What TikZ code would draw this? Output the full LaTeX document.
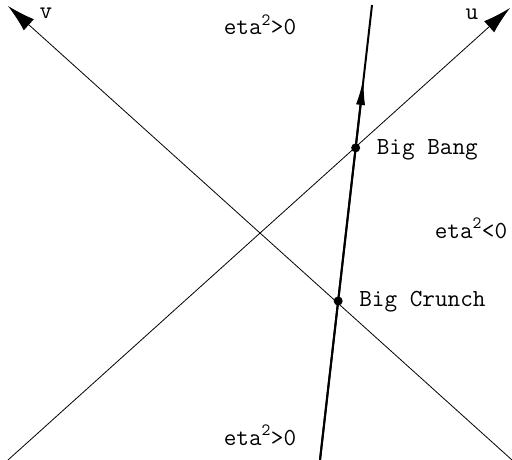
\documentclass[tikz,border=0pt]{standalone}
\usepackage{fontspec}
\usetikzlibrary{arrows.meta,positioning,calc}

\begin{document}
\begin{tikzpicture}[x=1pt, y=-1pt,
		lab/.style={font=\ttfamily\fontsize{24.5}{26}\selectfont, inner sep=0pt},
		cone/.style={line width=0.8pt, -{Latex[length=28pt,width=15pt]}},
		world/.style={line width=2pt},
		event/.style={circle, fill, inner sep=0pt, minimum size=9pt}]
	\useasboundingbox (0,0) rectangle (512,460);
	% light cone
	\coordinate (u0) at (8,460);
	\coordinate (u1) at (510,8);
	\coordinate (v0) at (512,460);
	\coordinate (v1) at (8,6);
	\draw[cone] (u0) -- (u1);
	\draw[cone] (v0) -- (v1);
	\node[lab] (ulab) at (472,14) {u};
	\node[lab] (vlab) at (46,13) {v};
	% world line
	\coordinate (w0) at (320,460);
	\coordinate (wm) at (363.6,78);
	\coordinate (w1) at (372,5);
	\draw[world] (w0) -- (w1);
	\draw[world, -{Latex[length=27pt,width=9pt]}] (w0) -- (wm);
	\node[event] (bang) at ($(w0)!0.686!(w1)$) {};
	\node[event] (crunch) at ($(w0)!0.3495!(w1)$) {};
	\node[lab, anchor=base west] (banglab) at ($(bang)+(21,7)$) {Big Bang};
	\node[lab, anchor=base west] (crunchlab) at ($(crunch)+(21,6)$) {Big Crunch};
	% regions
	\node[lab, anchor=base] (top) at (260,35) {eta\textsuperscript{2}>0};
	\node[lab, anchor=base] (bot) at (260,445) {eta\textsuperscript{2}>0};
	\node[lab, anchor=base] (mid) at (471,238) {eta\textsuperscript{2}<0};
\end{tikzpicture}
\end{document}
